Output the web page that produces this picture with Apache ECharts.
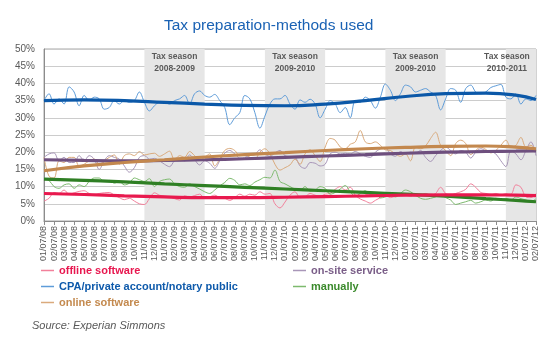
<!DOCTYPE html>
<html>
<head>
<meta charset="utf-8">
<script src="https://cdn.jsdelivr.net/npm/echarts@6/dist/echarts.min.js"></script>
<style>
  html, body { margin: 0; padding: 0; background: #fff; }
  #chart { width: 558px; height: 340px; }
</style>
</head>
<body>
<div id="chart"></div>
<script>
// Month tick labels (one per month, MM/DD/YY)
const months = [
  '01/07/08','02/07/08','03/07/08','04/07/08','05/07/08','06/07/08','07/07/08','08/07/08','09/07/08','10/07/08','11/07/08','12/07/08',
  '01/07/09','02/07/09','03/07/09','04/07/09','05/07/09','06/07/09','07/07/09','08/07/09','09/07/09','10/07/09','11/07/09','12/07/09',
  '01/07/10','02/07/10','03/07/10','04/07/10','05/07/10','06/07/10','07/07/10','08/07/10','09/07/10','10/07/10','11/07/10','12/07/10',
  '01/07/11','02/07/11','03/07/11','04/07/11','05/07/11','06/07/11','07/07/11','08/07/11','09/07/11','10/07/11','11/07/11','12/07/11',
  '01/07/12','02/07/12'
];

// Tax seasons: [start month index, end month index, label]
const seasons = [
  [10, 16, 'Tax season\n2008-2009'],
  [22, 28, 'Tax season\n2009-2010'],
  [34, 40, 'Tax season\n2009-2010'],
  [46, 49, 'Tax season\n2010-2011']
];

// Half-monthly shares (%) per method, first value at 01/07/08
const offline = [
  5.8,6.6,8.3,8.0,9.0,7.8,8.2,8.6,8.8,8.0,7.6,8.0,8.2,8.3,7.5,6.8,6.2,6.6,5.8,5.0,
  4.8,6.5,8.2,7.5,7.2,7.0,6.5,6.1,7.3,7.0,7.4,7.8,6.6,7.0,7.5,6.8,6.6,6.0,6.8,7.8,
  7.2,7.8,7.5,8.5,7.8,8.0,5.0,3.8,5.5,7.5,8.5,6.8,7.0,8.0,7.5,7.2,7.8,8.0,9.2,10.0,
  9.0,9.8,7.5,6.4,5.8,5.2,6.0,6.8,7.5,6.8,7.2,7.5,7.5,7.2,7.8,7.5,8.0,7.5,8.0,9.8,
  8.0,7.6,8.0,8.5,9.2,10.8,9.8,8.3,8.0,7.6,8.0,7.6,8.0,7.8,10.5,9.8,7.0,6.8,8.0
];
const cpa = [
  35.0,37.0,34.0,35.5,34.0,39.0,37.5,33.5,36.5,35.0,36.0,35.5,32.5,33.0,35.0,34.0,35.0,34.5,35.0,37.5,
  34.5,32.0,33.5,34.5,34.5,34.0,35.0,35.5,36.5,34.0,37.0,37.8,36.5,36.0,36.8,35.0,33.0,28.0,30.0,31.5,
  36.5,35.5,31.5,27.0,30.5,34.0,35.5,35.5,36.5,34.0,32.5,35.2,34.5,35.4,34.0,30.0,32.5,35.0,34.0,31.5,
  33.0,30.0,35.0,34.5,36.0,35.0,32.8,36.0,39.8,38.0,35.0,37.0,39.5,39.0,37.5,38.0,38.5,37.5,36.5,32.3,
  35.5,38.5,38.0,34.5,38.5,39.5,37.5,37.0,37.5,38.8,39.3,39.7,36.0,35.5,37.0,34.0,35.5,35.0,36.5
];
const online = [
  18.5,13.0,12.5,17.5,17.0,18.5,18.5,16.0,16.5,17.5,18.0,16.5,17.5,18.5,19.2,16.5,19.0,19.5,19.0,20.2,
  19.2,19.5,19.7,18.8,19.5,20.3,17.8,19.0,18.5,20.2,19.0,17.7,18.5,19.5,16.0,18.0,20.5,21.1,20.5,19.0,
  19.5,18.5,18.0,20.0,21.0,19.5,16.5,14.8,15.5,16.3,18.0,16.5,19.5,20.7,19.0,17.3,21.5,24.0,23.5,21.5,
  21.0,22.3,23.0,26.3,23.0,22.5,23.0,22.0,20.7,20.5,19.5,18.8,19.5,17.5,21.5,21.0,21.8,24.0,25.8,22.0,
  20.5,19.0,22.5,23.5,22.5,19.3,20.5,21.5,20.8,19.8,20.5,22.0,23.5,21.5,22.0,24.3,21.5,22.0,20.5
];
const onsite = [
  18.5,19.5,19.8,17.5,18.5,17.0,17.0,19.0,17.5,19.0,18.0,15.0,17.5,19.0,18.5,18.0,16.0,14.2,15.5,18.5,
  19.0,18.0,18.2,17.5,16.5,15.8,17.5,18.2,17.5,19.2,17.8,16.3,17.5,16.8,15.3,17.5,19.7,20.5,19.5,18.3,
  18.5,19.0,19.3,20.7,19.5,18.8,19.8,20.5,19.0,18.7,18.5,16.0,15.3,17.0,16.8,16.0,16.5,19.5,20.0,19.5,
  19.7,19.5,20.2,19.5,18.8,18.5,20.0,21.0,21.3,19.5,18.8,20.2,19.5,20.0,19.7,20.5,18.5,17.3,19.0,20.5,
  21.5,20.5,19.5,20.5,20.0,18.3,20.0,21.0,20.5,20.2,19.5,17.5,15.8,20.5,19.5,17.8,20.5,23.0,19.0
];
const manually = [
  12.5,11.8,10.0,9.5,10.5,10.8,9.5,10.5,10.0,11.5,12.5,12.5,11.5,11.8,11.0,11.5,10.5,11.0,12.5,12.0,
  11.5,12.3,10.0,11.5,12.0,12.2,10.8,10.0,9.8,10.8,10.0,9.3,8.5,8.0,9.0,10.2,11.2,12.4,11.8,10.5,
  10.8,10.3,11.3,12.0,12.7,12.5,14.8,11.5,10.8,10.0,9.3,9.0,10.0,8.7,9.0,10.0,9.5,7.8,8.3,9.3,
  10.3,8.5,7.2,8.0,8.8,7.8,8.0,6.7,7.0,7.5,7.0,8.0,9.0,8.5,7.5,6.6,6.3,6.6,7.0,7.6,
  6.8,6.1,4.8,5.2,5.6,6.0,5.2,5.6,6.1,5.8,6.6,6.1,6.6,6.1,7.0,6.5,6.1,5.6,6.5
];

// Trend curves, read at these month indexes
const trendMonths = [0, 4, 8, 12, 16, 20, 24, 28, 32, 36, 40, 44, 47, 49];
const offlineTrend  = [8.0, 7.7, 7.3, 7.0, 6.8, 6.8, 6.9, 7.1, 7.3, 7.5, 7.6, 7.6, 7.5, 7.4];
const cpaTrend      = [35.0, 35.2, 35.0, 34.5, 34.0, 33.6, 33.5, 34.0, 35.0, 36.2, 37.0, 37.2, 36.6, 35.3];
const onlineTrend   = [14.6, 16.0, 17.0, 17.8, 18.6, 19.3, 19.9, 20.5, 21.0, 21.4, 21.7, 21.8, 21.5, 21.0];
const onsiteTrend   = [17.8, 17.6, 17.5, 17.6, 17.8, 18.1, 18.5, 18.9, 19.3, 19.7, 20.0, 20.2, 20.3, 20.4];
const manuallyTrend = [12.2, 11.8, 11.4, 10.8, 10.3, 9.8, 9.3, 8.8, 8.3, 7.8, 7.2, 6.5, 6.0, 5.6];

const yTicks = { min: 0, max: 50, step: 5 };

const methods = [
  { name: 'offline software', values: offline, trend: offlineTrend, thin: '#F2809B', thick: '#E8194E', text: '#E8174F' },
  { name: 'on-site service', values: onsite, trend: onsiteTrend, thin: '#A896B8', thick: '#6E4F7E', text: '#7A5E88' },
  { name: 'CPA/private account/notary public', values: cpa, trend: cpaTrend, thin: '#5E9CD9', thick: '#0B58A8', text: '#0E5AAB' },
  { name: 'manually', values: manually, trend: manuallyTrend, thin: '#7DBA6E', thick: '#2F7F24', text: '#3B8A2C' },
  { name: 'online software', values: online, trend: onlineTrend, thin: '#DAAA7C', thick: '#C3884E', text: '#C48A4F' }
];

const seriesList = [];
methods.forEach(m => {
  seriesList.push({
    name: m.name,
    type: 'line',
    data: m.values.map((v, k) => [k / 2, v]),
    smooth: 0.35,
    symbol: 'none',
    lineStyle: { width: 1, color: m.thin },
    itemStyle: { color: m.thin },
    z: 2
  });
});
const trendOrder = ['on-site service', 'online software', 'manually', 'offline software', 'CPA/private account/notary public'];
trendOrder.forEach((n, idx) => {
  const m = methods.find(x => x.name === n);
  seriesList.push({
    name: m.name + ' trend',
    type: 'line',
    data: m.trend.map((v, i) => [trendMonths[i], v]),
    smooth: true,
    symbol: 'none',
    lineStyle: { width: 3.2, color: m.thick },
    itemStyle: { color: m.thick },
    z: 3 + idx
  });
});

// Shaded tax seasons with captions
seriesList[0].markArea = {
  silent: true,
  itemStyle: { color: '#E6E6E6' },
  label: {
    position: 'insideTop',
    distance: 2,
    color: '#595959',
    fontFamily: 'Liberation Sans, Arial, sans-serif',
    fontWeight: 'bold',
    fontSize: 8.5,
    lineHeight: 12,
    align: 'center'
  },
  data: seasons.map((s, i) => [
    { xAxis: s[0], name: s[2], label: i === seasons.length - 1 ? { offset: [-14, 0] } : {} },
    { xAxis: s[1] }
  ])
};
seriesList[0].markArea.data.forEach(d => { d[0].yAxis = yTicks.max; d[1].yAxis = yTicks.min; });

const legendFont = { fontFamily: 'Liberation Sans, Arial, sans-serif', fontWeight: 'bold', fontSize: 11 };
function legendBlock(names, left) {
  return {
    orient: 'vertical',
    left: left,
    top: 264,
    padding: 0,
    itemGap: 3,
    itemWidth: 13,
    itemHeight: 1.5,
    icon: 'rect',
    selectedMode: false,
    textStyle: Object.assign({ lineHeight: 13 }, legendFont),
    data: names.map(n => ({ name: n, textStyle: { color: methods.find(m => m.name === n).text } }))
  };
}

const chart = echarts.init(document.getElementById('chart'), null, { renderer: 'canvas' });
chart.setOption({
  animation: false,
  backgroundColor: '#ffffff',
  title: [
    {
      text: 'Tax preparation-methods used',
      left: 164,
      top: 18,
      padding: 0,
      textStyle: { color: '#1A62B4', fontFamily: 'Liberation Sans, Arial, sans-serif', fontWeight: 'normal', fontSize: 15.5 }
    },
    {
      text: 'Source: Experian Simmons',
      left: 32,
      top: 320,
      padding: 0,
      textStyle: { color: '#595959', fontFamily: 'Liberation Sans, Arial, sans-serif', fontStyle: 'italic', fontWeight: 'normal', fontSize: 11 }
    }
  ],
  legend: [
    legendBlock(['offline software', 'CPA/private account/notary public', 'online software'], 41),
    legendBlock(['on-site service', 'manually'], 293)
  ],
  grid: { left: 44, right: 22, top: 49, bottom: 119, show: true, borderColor: '#A6A6A6', borderWidth: 1 },
  xAxis: {
    type: 'value',
    min: 0,
    max: months.length - 1,
    interval: 1,
    axisLine: { show: true, lineStyle: { color: '#8C8C8C' } },
    axisTick: { show: true, length: 4, lineStyle: { color: '#8C8C8C' } },
    splitLine: { show: false },
    axisLabel: {
      rotate: 90,
      fontSize: 9,
      margin: 5,
      color: '#595959',
      fontFamily: 'Liberation Sans, Arial, sans-serif',
      showMinLabel: true,
      showMaxLabel: true,
      formatter: v => months[v] || ''
    }
  },
  yAxis: {
    type: 'value',
    min: yTicks.min,
    max: yTicks.max,
    interval: yTicks.step,
    axisLine: { show: true, lineStyle: { color: '#8C8C8C' } },
    axisTick: { show: false },
    splitLine: { show: true, lineStyle: { color: '#CCCCCC', width: 1 } },
    axisLabel: {
      fontSize: 10,
      margin: 9,
      color: '#595959',
      fontFamily: 'Liberation Sans, Arial, sans-serif',
      formatter: v => v + '%'
    }
  },
  series: seriesList
});
</script>
</body>
</html>
